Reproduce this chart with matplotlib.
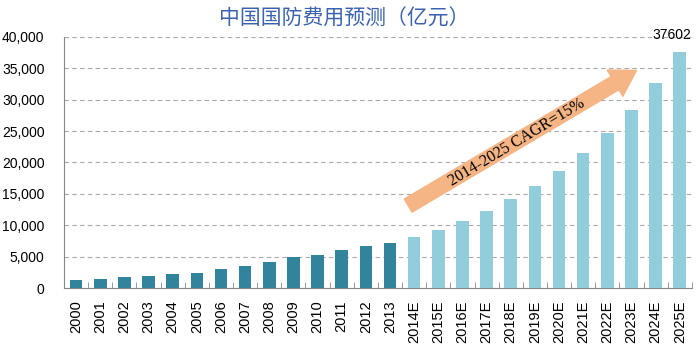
import matplotlib.pyplot as plt
from matplotlib.patches import FancyArrowPatch
from matplotlib.ticker import FuncFormatter, FixedLocator
import numpy as np

plt.rcParams['font.family'] = ['Liberation Sans', 'Noto Sans CJK SC', 'DejaVu Sans']

# data
years = ['2000', '2001', '2002', '2003', '2004', '2005', '2006', '2007',
         '2008', '2009', '2010', '2011', '2012', '2013']
spend = [1208, 1442, 1708, 1908, 2200, 2475, 2979, 3555,
         4179, 4951, 5333, 6028, 6703, 7202]
est_years = ['2014E', '2015E', '2016E', '2017E', '2018E', '2019E',
             '2020E', '2021E', '2022E', '2023E', '2024E', '2025E']
est_spend = [8080, 9290, 10690, 12290, 14130, 16250,
             18690, 21500, 24720, 28430, 32700, 37602]

title = '中国国防费用预测（亿元）'
cagr_text = '2014-2025 CAGR=15%'

dark = '#31849B'
light = '#92CDDC'

fig = plt.figure(figsize=(6.96, 3.45), dpi=100)
ax = fig.add_axes([0.092, 0.165, 0.902, 0.728])

n1 = len(years)
x1 = np.arange(n1)
x2 = np.arange(n1, n1 + len(est_years))
ax.bar(x1, spend, width=0.52, color=dark, zorder=3)
ax.bar(x2, est_spend, width=0.52, color=light, zorder=3)

ax.set_xlim(-0.5, n1 + len(est_years) - 0.5)
ax.set_ylim(0, 40000)
ax.set_yticks(np.arange(0, 40001, 5000))
ax.yaxis.set_major_formatter(FuncFormatter(lambda v, p: '{:,.0f}'.format(v)))
ax.set_xticks(np.concatenate([x1, x2]))
ax.set_xticklabels(years + est_years, rotation=90)
ax.xaxis.set_minor_locator(FixedLocator(np.arange(-0.5, n1 + len(est_years), 1)))
ax.tick_params(axis='x', which='major', length=0, pad=9, labelsize=10.5)
ax.tick_params(axis='x', which='minor', length=4, direction='in', color='#888888')
ax.tick_params(axis='y', length=0, pad=14, labelsize=10)

ax.grid(axis='y', linestyle=(0, (4, 3)), color='#AAAAAA', linewidth=0.8, zorder=0)
for s in ['top', 'right']:
    ax.spines[s].set_visible(False)
ax.spines['left'].set_color('#888888')
ax.spines['bottom'].set_color('#888888')

ax.annotate(str(est_spend[-1]), (x2[-1], est_spend[-1]), xytext=(-6, 7),
            textcoords='offset points', ha='center', va='bottom', fontsize=10)

fig.text(0.495, 0.945, title, ha='center', va='center', fontsize=15,
         color='#3A62AE', fontweight='medium', family=['Noto Sans CJK SC'])

# growth arrow
arrow = FancyArrowPatch((0.583, 0.40), (0.918, 0.80), transform=fig.transFigure,
                        arrowstyle='simple,head_width=22,head_length=18,tail_width=11',
                        mutation_scale=1, color='#F5B585', zorder=5)
fig.add_artist(arrow)
fig.text(0.742, 0.588, cagr_text, rotation=31, ha='center', va='center',
         fontsize=11.5, family=['Liberation Serif'], zorder=6)

fig.savefig('out.png', dpi=100)
